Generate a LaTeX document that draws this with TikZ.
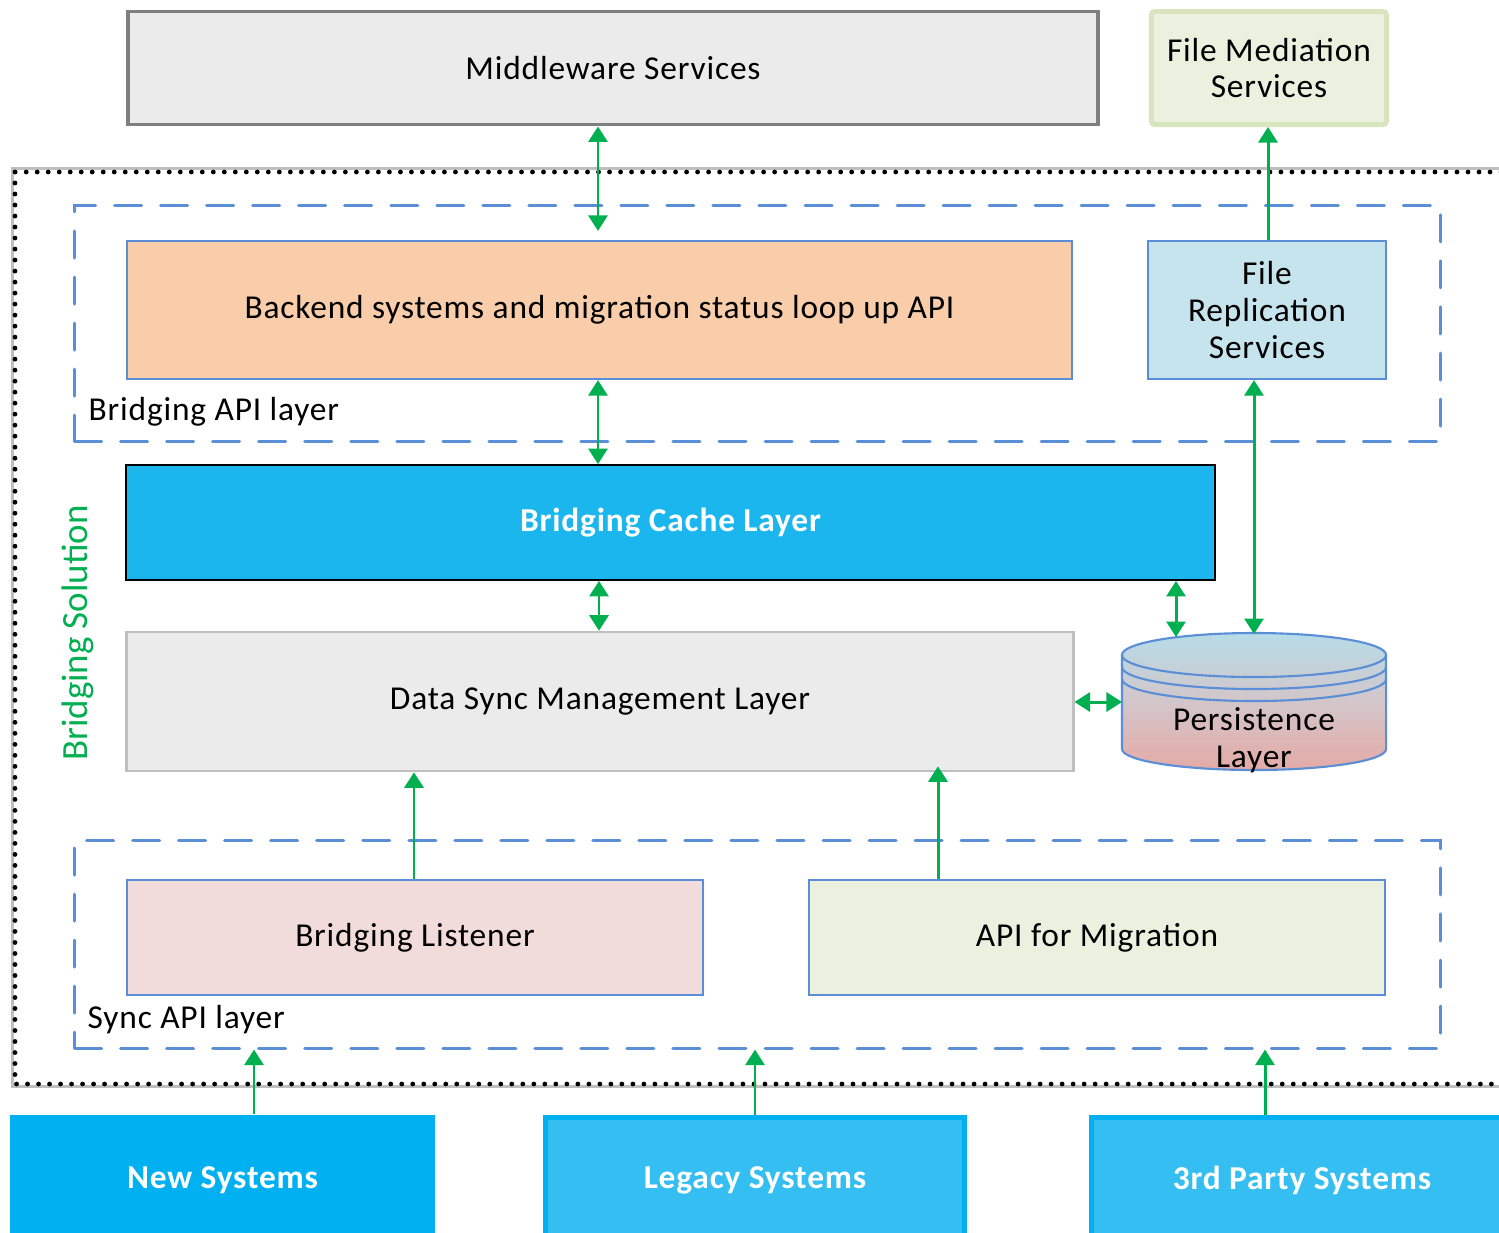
\documentclass[tikz,border=0pt]{standalone}
\usepackage{fontspec}
\setmainfont{Carlito}[LetterSpace=2.5]
\newfontfamily\plainfont{Carlito}
\usetikzlibrary{arrows.meta,calc}
\definecolor{cBlue}{HTML}{5A8ED6}
\definecolor{cGreen}{HTML}{00B050}
\definecolor{cGray}{HTML}{7F7F7F}
\definecolor{cLight}{HTML}{EBEBEB}
\definecolor{cLightDraw}{HTML}{BFBFBF}
\definecolor{fmFill}{HTML}{EBF1DE}
\definecolor{fmDraw}{HTML}{D7E4BD}
\definecolor{beFill}{HTML}{F9CDAA}
\definecolor{frFill}{HTML}{C6E4ED}
\definecolor{cacheFill}{HTML}{1CB6EF}
\definecolor{blFill}{HTML}{F2DCDB}
\definecolor{nsFill}{HTML}{00B0F0}
\definecolor{lsFill}{HTML}{35BEF2}
\definecolor{cylTop}{HTML}{B6DCE8}
\definecolor{cylMid}{HTML}{D3C6CA}
\definecolor{cylBot}{HTML}{E4AAA6}
\begin{document}
\begin{tikzpicture}[x=0.01cm,y=-0.01cm,
  txt/.style={font=\fontsize{9.5}{10.5}\selectfont, text=black, align=center, inner sep=0pt},
  btxt/.style={font=\fontsize{9.5}{10.5}\selectfont\bfseries, text=white, align=center, inner sep=0pt},
  bluebox/.style={rectangle, draw=cBlue, line width=0.6pt, txt},
  sysbox/.style={rectangle, fill=lsFill, draw=nsFill, line width=1.4pt, btxt, minimum height=1.25cm},
  dashbox/.style={rectangle, draw=cBlue, line width=0.85pt, dash pattern=on 0.27cm off 0.19cm, line cap=round},
  garr/.style={draw=cGreen, line width=0.85pt, -{Triangle[width=0.19cm,length=0.155cm]}},
  gbi/.style={draw=cGreen, line width=0.85pt, {Triangle[width=0.19cm,length=0.155cm]}-{Triangle[width=0.19cm,length=0.155cm]}}
]
\clip (0,0) rectangle (1499,1232);
\fill[white] (0,0) rectangle (1499,1232);

% outer dotted frame
\draw[cLightDraw, line width=0.03cm] (12.5,168.5) rectangle (1530,1086.5);
\draw[black, line width=0.048cm, dash pattern=on 0pt off 0.11cm, line cap=round] (15,172) rectangle (1530,1084);

% dashed layers
\node[dashbox, minimum width=13.65cm, minimum height=2.35cm] (apiL) at (757.5,323.5) {};
\node[dashbox, minimum width=13.65cm, minimum height=2.07cm] (syncL) at (757.5,944.5) {};
\node[txt, anchor=west] (apilab) at (88,412) {Bridging API layer};
\node[txt, anchor=west] (synclab) at (87,1020) {Sync API layer};

% top boxes
\node[rectangle, draw=cGray, line width=1.1pt, fill=cLight, txt, minimum width=9.70cm, minimum height=1.13cm] (mw) at (613,68) {Middleware Services};
\node[rectangle, draw=fmDraw, line width=1.4pt, fill=fmFill, rounded corners=1pt, txt, minimum width=2.35cm, minimum height=1.13cm] (fm) at (1269,68) {File Mediation\\Services};

% bridging API layer
\node[bluebox, fill=beFill, minimum width=9.45cm, minimum height=1.38cm] (be) at (599.5,310) {Backend systems and migration status loop up API};
\node[bluebox, fill=frFill, minimum width=2.38cm, minimum height=1.38cm] (fr) at (1267,310) {File\\Replication\\Services};

% cache
\node[rectangle, draw=black, line width=0.5pt, fill=cacheFill, btxt, minimum width=10.89cm, minimum height=1.15cm] (cache) at (670.5,522.5) {Bridging Cache Layer};

% data sync
\node[rectangle, draw=cLightDraw, line width=0.7pt, fill=cLight, txt, minimum width=9.46cm, minimum height=1.39cm] (ds) at (600,701.5) {Data Sync Management Layer};

% persistence cylinder
\path[top color=cylTop, bottom color=cylBot, middle color=cylMid]
  (1122,655) rectangle (1386,749)
  (1254,749) ellipse [x radius=1.32cm, y radius=0.21cm]
  (1254,655) ellipse [x radius=1.32cm, y radius=0.22cm];
\draw[cBlue, line width=0.6pt] (1122,655) -- (1122,749) arc[start angle=180, end angle=360, x radius=1.32cm, y radius=0.21cm] -- (1386,655);
\draw[cBlue, line width=0.6pt] (1254,655) ellipse [x radius=1.32cm, y radius=0.22cm];
\draw[cBlue, line width=0.6pt] (1122,667) arc[start angle=180, end angle=360, x radius=1.32cm, y radius=0.22cm];
\draw[cBlue, line width=0.6pt] (1122,679) arc[start angle=180, end angle=360, x radius=1.32cm, y radius=0.22cm];
\node[txt] (pers) at (1254,740) {Persistence\\Layer};
\coordinate (pTopA) at (1176,637);
\coordinate (pTopB) at (1254,634);
\coordinate (pW) at (1122,702);

% sync API layer
\node[bluebox, fill=blFill, minimum width=5.76cm, minimum height=1.15cm] (bl) at (415,937.5) {Bridging Listener};
\node[bluebox, fill=fmFill, minimum width=5.76cm, minimum height=1.15cm] (am) at (1097,937.5) {API for Migration};

% source systems
\node[rectangle, fill=nsFill, btxt, minimum width=4.25cm, minimum height=1.30cm] (ns) at (222.5,1180) {New Systems};
\node[sysbox, minimum width=4.19cm] (ls) at (755,1180) {Legacy Systems};
\node[sysbox, minimum width=4.21cm] (tp) at (1302,1180) {3rd Party Systems};

% side label
\node[rotate=90, text=cGreen, font=\plainfont\fontsize{10.5}{12}\selectfont, inner sep=0pt] (bs) at (78,633) {Bridging Solution};

% column coordinates
\coordinate (k598) at (598,0);
\coordinate (k599) at (599,0);
\coordinate (k1176) at (1176,0);
\coordinate (k1254) at (1254,0);
\coordinate (k1268) at (1268,0);
\coordinate (k414) at (414,0);
\coordinate (k938) at (938,0);
\coordinate (k254) at (254,0);
\coordinate (k755) at (755,0);
\coordinate (k1265) at (1265,0);

% connectors
\draw[gbi, shorten >=0.09cm] (mw.south -| k598) -- (be.north -| k598);
\draw[gbi] (be.south -| k598) -- (cache.north -| k598);
\draw[gbi] (cache.south -| k599) -- (ds.north -| k599);
\draw[gbi] (cache.south -| k1176) -- (pTopA);
\draw[gbi] (fr.south -| k1254) -- (pTopB);
\draw[garr] (fr.north -| k1268) -- (fm.south -| k1268);
\draw[gbi] (ds.east |- pW) -- (pW);
\draw[garr] (bl.north -| k414) -- (ds.south -| k414);
\draw[garr, shorten >=-0.06cm] (am.north -| k938) -- (ds.south -| k938);
\draw[garr] (ns.north -| k254) -- (syncL.south -| k254);
\draw[garr] (ls.north -| k755) -- (syncL.south -| k755);
\draw[garr] (tp.north -| k1265) -- (syncL.south -| k1265);
\end{tikzpicture}
\end{document}
